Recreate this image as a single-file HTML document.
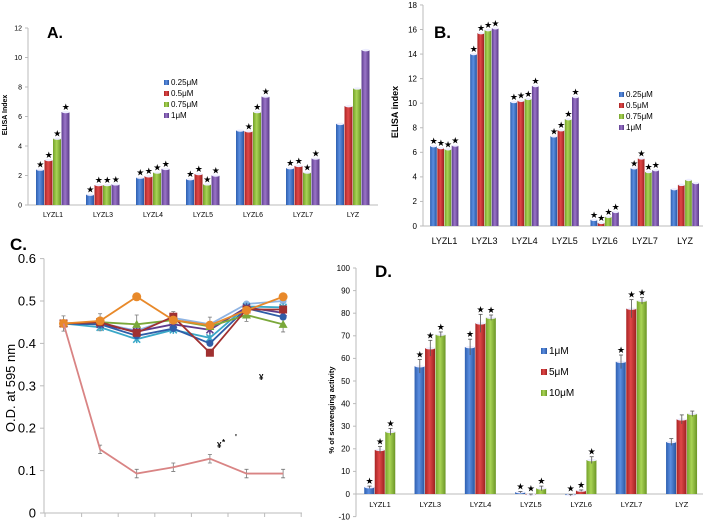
<!DOCTYPE html>
<html><head><meta charset="utf-8"><style>
body{margin:0;background:#fff}
svg{display:block;font-family:"Liberation Sans",Arial,"DejaVu Sans",sans-serif}
</style></head><body>
<svg id="fig" width="703" height="522" viewBox="0 0 703 522" xmlns="http://www.w3.org/2000/svg">
<defs>
<linearGradient id="gb" x1="0" x2="1"><stop offset="0" stop-color="#2e5fb0"/><stop offset="0.45" stop-color="#5b8ee0"/><stop offset="1" stop-color="#2a56a0"/></linearGradient>
<linearGradient id="gr" x1="0" x2="1"><stop offset="0" stop-color="#a82424"/><stop offset="0.45" stop-color="#e04848"/><stop offset="1" stop-color="#9c2020"/></linearGradient>
<linearGradient id="gg" x1="0" x2="1"><stop offset="0" stop-color="#74a12a"/><stop offset="0.45" stop-color="#a9d455"/><stop offset="1" stop-color="#6b9626"/></linearGradient>
<linearGradient id="gp" x1="0" x2="1"><stop offset="0" stop-color="#5f3f8f"/><stop offset="0.45" stop-color="#9a74c8"/><stop offset="1" stop-color="#583a86"/></linearGradient>
</defs>
</svg>
<script>
// ---- Panel A data ----
const catsA = ["LYZL1","LYZL3","LYZL4","LYZL5","LYZL6","LYZL7","LYZ"];
const a025 = [2.4,0.7,1.85,1.75,5.05,2.5,5.5];
const a05  = [3.05,1.35,1.95,2.1,5.0,2.65,6.7];
const a075 = [4.5,1.35,2.2,1.4,6.3,2.2,7.9];
const a1   = [6.3,1.4,2.45,2.0,7.35,3.15,10.5];
const ticksA = [0,2,4,6,8,10,12];
// ---- Panel B data ----
const catsB = ["LYZL1","LYZL3","LYZL4","LYZL5","LYZL6","LYZL7","LYZ"];
const b025 = [6.5,14.0,10.1,7.3,0.5,4.7,3.0];
const b05  = [6.35,15.7,10.2,7.8,0.25,5.5,3.35];
const b075 = [6.25,15.95,10.35,8.7,0.75,4.4,3.75];
const b1   = [6.55,16.1,11.4,10.5,1.15,4.55,3.5];
const ticksB = [0,2,4,6,8,10,12,14,16,18];
// ---- Panel C data ----
const cOrange = [0.447,0.453,0.51,0.455,0.443,0.478,0.51];
const cRed    = [0.447,0.45,0.425,0.463,0.378,0.48,0.48];
const cGreen  = [0.447,0.45,0.445,0.455,0.44,0.467,0.445];
const cBlue   = [0.447,0.445,0.418,0.435,0.40,0.483,0.462];
const cPurple = [0.447,0.445,0.428,0.445,0.432,0.485,0.472];
const cCyan   = [0.447,0.438,0.41,0.432,0.413,0.487,0.485];
const cLight  = [0.447,0.448,0.43,0.46,0.445,0.493,0.50];
const cPink   = [0.447,0.15,0.093,0.108,0.128,0.093,0.093];
const ticksC = [0,0.1,0.2,0.3,0.4,0.5,0.6];
// ---- Panel D data ----
const catsD = ["LYZL1","LYZL3","LYZL4","LYZL5","LYZL6","LYZL7","LYZ"];
const d1  = [3,56.5,65,0.8,-0.5,58.5,23];
const d5  = [19.5,64.5,75.5,-0.3,1.5,82,33];
const d10 = [27.5,70.5,78,2.5,15,85.5,35.5];
const errD1 = [0.5,3,3.5,0.3,0.3,3,1.5];
const errD5 = [1.5,3.5,4,0.3,0.3,4,2];
const errD10= [1.5,1.2,1.2,1,1.5,1.5,1.2];
const ticksD = [-10,0,10,20,30,40,50,60,70,80,90,100];

const svg = document.getElementById('fig');
const NS = "http://www.w3.org/2000/svg";
function mk(tag, attrs, parent){const e=document.createElementNS(NS,tag);for(const k in attrs)e.setAttribute(k,attrs[k]);(parent||svg).appendChild(e);return e;}
function txt(x,y,s,size,attrs,parent){const e=mk('text',Object.assign({x:x,y:y,'font-size':size,fill:'#000'},attrs||{}),parent);e.textContent=s;return e;}

function barPanel(o){
  const g=mk('g',{});
  
  
  const y=v=>o.y0-(v-o.zero)*o.ppu;
  const ax=mk('line',{x1:o.ax,x2:o.ax,y1:y(o.ticks[o.ticks.length-1]),y2:y(o.ticks[0]),stroke:'#bbb','stroke-width':1},g);
  
  
  mk('line',{x1:o.ax,x2:o.xEnd,y1:y(0),y2:y(0),stroke:'#bbb','stroke-width':1},g);
  o.ticks.forEach(t=>{
    mk('line',{x1:o.ax-3,x2:o.ax,y1:y(t),y2:y(t),stroke:'#bbb'},g);
    const tl=txt(o.ax-6,y(t)+o.tfs*0.35,String(t),o.tfs,{'text-anchor':'end'},g);
    
    
  });
  o.cats.forEach((c,i)=>{
    const cx=o.c0+i*o.sp;
    const n=o.series.length;
    o.series.forEach((s,j)=>{
      const v=s[i];
      const bx=cx-(n*o.bw)/2+j*o.bw;
      const top=Math.min(y(v),y(0)), h=Math.max(Math.abs(y(v)-y(0)),0.8);
      const r=mk('rect',{x:bx,y:top,width:o.bw-0.5,height:h,fill:o.fills[j]},g);
      
      
      mk('ellipse',{cx:bx+o.bw/2,cy:y(v),rx:o.bw/2-0.5,ry:1.2,fill:'#eef'},g);
      if(o.errs){const e=o.errs[j][i];
        mk('line',{x1:bx+o.bw/2,x2:bx+o.bw/2,y1:y(v+e),y2:y(v-e),stroke:'#555','stroke-width':0.8},g);
        mk('line',{x1:bx+o.bw/2-2,x2:bx+o.bw/2+2,y1:y(v+e),y2:y(v+e),stroke:'#555','stroke-width':0.8},g);}
      if(o.star[i][j]){const st=txt(bx+o.bw/2,Math.min(y(v),y(0))-(o.errs?(o.errs[j][i]*o.ppu):0)-2,'★',o.sfs,{'text-anchor':'middle'},g);
        
        }
    });
    const cl=txt(cx,o.ly,c,o.cfs,{'text-anchor':'middle'},g);
    
    
  });
  o.leg.forEach((l,k)=>{
    const ly=o.legY+k*o.legDy;
    mk('rect',{x:o.legX,y:ly-o.legS+1,width:o.legS-1,height:o.legS-1,fill:o.fills[k]},g);
    const lt=txt(o.legX+o.legS+1,ly,l,o.lfs,{},g);
    
    
  });
  const tt=txt(o.titleX,o.titleY,o.title,o.titleFs,{'font-weight':'bold'},g);
  
  
  const yl=txt(0,0,o.ylab,o.ylfs,{'text-anchor':'middle','font-weight':'bold',transform:'translate('+o.ylx+','+o.yly+') rotate(-90)'},g);
  
  
}
const F4=['url(#gb)','url(#gr)','url(#gg)','url(#gp)'];
const allStar=(n,m)=>Array.from({length:n},()=>Array(m).fill(1));
const starA=allStar(7,4); starA[4][0]=0; starA[6]=[0,0,0,0];
barPanel({name:'panel-a',y0:205,zero:0,ppu:14.75,ax:28,xEnd:378,ticks:ticksA,tfs:7,cats:catsA,c0:53,sp:50,bw:8.5,
  series:[a025,a05,a075,a1],fills:F4,star:starA,sfs:9,ly:217,cfs:7,
  leg:['0.25μM','0.5μM','0.75μM','1μM'],legX:164,legY:85,legDy:11,legS:6,lfs:8,
  title:'A.',titleX:47,titleY:38,titleFs:16,ylab:'ELISA Index',ylfs:7,ylx:7,yly:115});
const starB=allStar(7,4); starB[6]=[0,0,0,0];
barPanel({name:'panel-b',y0:226,zero:0,ppu:12.28,ax:423,xEnd:703,ticks:ticksB,tfs:8,cats:catsB,c0:444.5,sp:40.1,bw:7.2,
  series:[b025,b05,b075,b1],fills:F4,star:starB,sfs:9,ly:244,cfs:9,
  leg:['0.25μM','0.5μM','0.75μM','1μM'],legX:619,legY:97,legDy:11,legS:6,lfs:8,
  title:'B.',titleX:434,titleY:38,titleFs:17,ylab:'ELISA index',ylfs:9,ylx:398,yly:112});
const starD=allStar(7,3); starD[6]=[0,0,0];
barPanel({name:'panel-d',y0:494,zero:0,ppu:2.26,ax:356,xEnd:703,ticks:ticksD,tfs:8,cats:catsD,c0:380,sp:50.3,bw:10.5,
  series:[d1,d5,d10],fills:F4.slice(0,3),star:starD,errs:[errD1,errD5,errD10],sfs:9,ly:507,cfs:7.5,
  leg:['1μM','5μM','10μM'],legX:541,legY:354,legDy:21,legS:7,lfs:10,
  title:'D.',titleX:375,titleY:277,titleFs:17,ylab:'% of scavenging activity',ylfs:7.5,ylx:334,yly:410});

(function(){
  const g=mk('g',{});
  
  
  const y=v=>513-v*424;
  const x=i=>63.5+i*36.6;
  mk('line',{x1:44,x2:44,y1:y(0.6),y2:y(0),stroke:'#bbb'},g);
  mk('line',{x1:44,x2:302,y1:y(0),y2:y(0),stroke:'#bbb'},g);
  ticksC.forEach(t=>{mk('line',{x1:40,x2:44,y1:y(t),y2:y(t),stroke:'#bbb'},g);
    const tl=txt(36,y(t)+4.5,String(t),13,{'text-anchor':'end'},g);
    
    });
  for(let i=0;i<=7;i++) mk('line',{x1:45+i*36.6,x2:45+i*36.6,y1:y(0),y2:y(0)+4,stroke:'#bbb'},g);
  const ser=[[cLight,'#8fb4e3','c'],[cCyan,'#3aa8c8','s'],[cPurple,'#5e3c8c','x'],[cBlue,'#2f5ea8','d'],[cGreen,'#7aa83a','t'],[cRed,'#a03030','q'],[cOrange,'#e8892a','o'],[cPink,'#d98484','n']];
  [[0,0.018],[1,0.02],[2,0.022],[3,0.02],[4,0.022],[5,0.015],[6,0.018]].forEach(([i,e])=>{
    const v=cGreen[i];mk('path',{d:`M${x(i)-2},${y(v+e)}h4M${x(i)},${y(v+e)}V${y(v-e)}M${x(i)-2},${y(v-e)}h4`,stroke:'#777','stroke-width':0.8,fill:'none'},g);});
  cPink.forEach((v,i)=>{if(i>0){const e=0.01;mk('path',{d:`M${x(i)-2},${y(v+e)}h4M${x(i)},${y(v+e)}V${y(v-e)}M${x(i)-2},${y(v-e)}h4`,stroke:'#777','stroke-width':0.8,fill:'none'},g);}});
  ser.forEach(([vals,col,m])=>{
    const p=mk('polyline',{points:vals.map((v,i)=>x(i)+','+y(v)).join(' '),fill:'none',stroke:col,'stroke-width':1.8},g);
    
    
    if(m==='n')return;
    vals.forEach((v,i)=>{const cx=x(i),cy=y(v);
      if(m==='o'||m==='c'||m==='d')mk('circle',{cx:cx,cy:cy,r:m==='o'?4.5:3.5,fill:col},g);
      else if(m==='q')mk('rect',{x:cx-4,y:cy-4,width:8,height:8,fill:col},g);
      else if(m==='t')mk('path',{d:`M${cx},${cy-4.5}L${cx+4.5},${cy+3.5}L${cx-4.5},${cy+3.5}Z`,fill:col},g);
      else mk('path',{d:`M${cx-3.5},${cy-3.5}L${cx+3.5},${cy+3.5}M${cx+3.5},${cy-3.5}L${cx-3.5},${cy+3.5}M${cx},${cy-4}V${cy+4}`,stroke:col,'stroke-width':1.5},g);
    });
  });
  txt(217,448,'¥',8,{'font-weight':'bold'},g);
  txt(222,445,'*',8,{'font-weight':'bold'},g);
  txt(235,440,'\'',8,{'font-weight':'bold'},g);
  txt(259,380,'¥',8,{'font-weight':'bold'},g);
  const tt=txt(10,250,'C.',17,{'font-weight':'bold'},g);
  
  
  const yl=txt(0,0,'O.D. at 595 nm',13,{'text-anchor':'middle',transform:'translate(15,388) rotate(-90)'},g);
  
  
})();
</script>
</body></html>
